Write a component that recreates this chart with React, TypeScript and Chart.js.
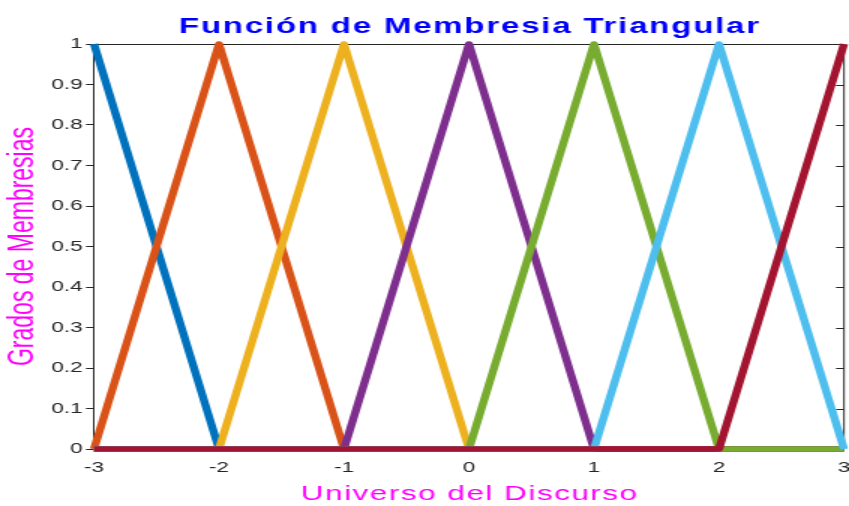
import React, { useEffect, useRef } from 'react';
import { Chart, registerables } from 'chart.js';

Chart.register(...registerables);

// Universe of discourse and the seven triangular membership functions
const xValues = [-3, -2, -1, 0, 1, 2, 3];
const mfNegBig = [1, 0, 0, 0, 0, 0, 0];
const mfNegMed = [0, 1, 0, 0, 0, 0, 0];
const mfNegSmall = [0, 0, 1, 0, 0, 0, 0];
const mfZero = [0, 0, 0, 1, 0, 0, 0];
const mfPosSmall = [0, 0, 0, 0, 1, 0, 0];
const mfPosMed = [0, 0, 0, 0, 0, 1, 0];
const mfPosBig = [0, 0, 0, 0, 0, 0, 1];

const seriesValues = [mfNegBig, mfNegMed, mfNegSmall, mfZero, mfPosSmall, mfPosMed, mfPosBig];
const seriesColors = ['#0072BD', '#D95319', '#EDB120', '#7E2F8E', '#77AC30', '#4DBEEE', '#A2142F'];

const xTickValues = [-3, -2, -1, 0, 1, 2, 3];
const xTickLabels = ['-3', '-2', '-1', '0', '1', '2', '3'];
const yTickValues = [0, 0.1, 0.2, 0.3, 0.4, 0.5, 0.6, 0.7, 0.8, 0.9, 1];
const yTickLabels = ['0', '0.1', '0.2', '0.3', '0.4', '0.5', '0.6', '0.7', '0.8', '0.9', '1'];

const titleText = 'Función de Membresia Triangular';
const xAxisLabel = 'Universo del Discurso';
const yAxisLabel = 'Grados de Membresias';

// The figure is drawn at a narrower logical width and stretched horizontally.
const OUT_W = 849;
const OUT_H = 506;
const STRETCH = 1.5;
const LOGICAL_W = Math.round(OUT_W / STRETCH);

const FONT = '"Liberation Sans", Arial, Helvetica, sans-serif';
const TICK_LEN = 8 / STRETCH;

// Box frame (top line, right spine with inward ticks) plus title and x-axis label
const framePlugin = {
  id: 'matlabFrame',
  beforeDatasetsDraw(chart: any) {
    const { ctx, chartArea } = chart;
    const { left, right, top, bottom } = chartArea;
    const yScale = chart.scales.y;
    ctx.save();
    ctx.strokeStyle = '#262626';
    ctx.lineWidth = 1;
    ctx.beginPath();
    ctx.moveTo(left, top + 0.5);
    ctx.lineTo(right, top + 0.5);
    ctx.moveTo(right, top);
    ctx.lineTo(right, bottom);
    yScale.ticks.forEach((t: any) => {
      const py = Math.round(yScale.getPixelForValue(t.value)) + 0.5;
      ctx.moveTo(right - TICK_LEN, py);
      ctx.lineTo(right, py);
    });
    ctx.stroke();
    ctx.restore();
  },
  afterDraw(chart: any) {
    const { ctx, chartArea } = chart;
    const cx = (chartArea.left + chartArea.right) / 2;
    ctx.save();
    ctx.textAlign = 'center';
    ctx.textBaseline = 'alphabetic';

    ctx.font = `bold 22px ${FONT}`;
    ctx.fillStyle = '#0000FF';
    (ctx as any).letterSpacing = '1.2px';
    ctx.fillText(titleText, cx + 0.6, 33);

    ctx.font = `21px ${FONT}`;
    ctx.fillStyle = '#FF00FF';
    (ctx as any).letterSpacing = '1px';
    ctx.fillText(xAxisLabel, cx + 0.5, 500);
    ctx.restore();
  },
};

export default function App() {
  const canvasRef = useRef<HTMLCanvasElement | null>(null);

  useEffect(() => {
    const canvas = canvasRef.current;
    if (!canvas) return;

    const datasets = seriesValues.map((vals, i) => ({
      label: `mf${i + 1}`,
      data: xValues.map((x, j) => ({ x, y: vals[j] })),
      borderColor: seriesColors[i],
      backgroundColor: seriesColors[i],
      borderWidth: 5.5,
      borderJoinStyle: 'round' as const,
      borderCapStyle: 'butt' as const,
      pointRadius: 0,
      tension: 0,
      fill: false,
      clip: 4,
      order: seriesValues.length - i,
    }));

    const chart = new Chart(canvas, {
      type: 'line',
      data: { datasets },
      options: {
        responsive: false,
        animation: false,
        devicePixelRatio: 1,
        layout: { padding: { top: 44, right: LOGICAL_W - 844 / STRETCH, bottom: 0, left: 0 } },
        plugins: {
          legend: { display: false },
          tooltip: { enabled: false },
          title: { display: false },
        },
        scales: {
          x: {
            type: 'linear',
            position: 'bottom',
            min: -3,
            max: 3,
            afterBuildTicks: (scale: any) => {
              scale.ticks = xTickValues.map((v) => ({ value: v }));
            },
            afterFit: (scale: any) => {
              scale.height = OUT_H - 449;
              scale.paddingLeft = 0;
              scale.paddingRight = 0;
            },
            ticks: {
              color: '#262626',
              font: { family: FONT, size: 15 },
              padding: 10,
              maxRotation: 0,
              autoSkip: false,
              callback: (_v: any, idx: number) => xTickLabels[idx],
            },
            grid: { display: true, drawOnChartArea: false, drawTicks: false },
            border: { display: true, color: '#262626', width: 1 },
            title: { display: false },
          },
          y: {
            type: 'linear',
            position: 'left',
            min: 0,
            max: 1,
            afterBuildTicks: (scale: any) => {
              scale.ticks = yTickValues.map((v) => ({ value: v }));
            },
            afterFit: (scale: any) => {
              scale.width = 94 / STRETCH;
              scale.paddingTop = 0;
              scale.paddingBottom = 0;
            },
            ticks: {
              color: '#262626',
              font: { family: FONT, size: 15 },
              padding: 2.3,
              autoSkip: false,
              callback: (_v: any, idx: number) => yTickLabels[idx],
            },
            grid: {
              display: true,
              drawOnChartArea: false,
              drawTicks: true,
              tickLength: TICK_LEN,
              tickColor: '#262626',
              tickWidth: 1,
            },
            border: { display: true, color: '#262626', width: 1 },
            title: {
              display: true,
              text: yAxisLabel,
              color: '#FF00FF',
              font: { family: FONT, size: 23 },
              padding: { top: 2, bottom: 0 },
            },
          },
        },
      },
      plugins: [framePlugin],
    });

    return () => {
      chart.destroy();
    };
  }, []);

  return (
    <div style={{ position: 'fixed', left: 0, top: 0, width: OUT_W, height: OUT_H, background: '#ffffff' }}>
      <canvas
        ref={canvasRef}
        width={LOGICAL_W}
        height={OUT_H}
        style={{ display: 'block', width: `${OUT_W}px`, height: `${OUT_H}px` }}
      />
    </div>
  );
}
